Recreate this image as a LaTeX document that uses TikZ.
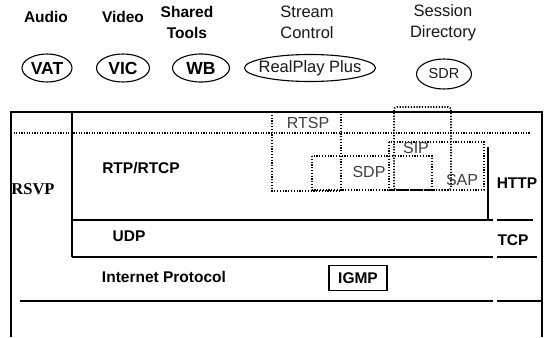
\documentclass[tikz,border=0pt]{standalone}
\usepackage{fontspec}
\setmainfont{Liberation Sans}
\newfontfamily\rsvpfont{Liberation Serif}
\begin{document}
\begin{tikzpicture}[x=1pt,y=-1pt,
  hdr/.style={font=\fontsize{15.5}{21}\selectfont\bfseries, align=center, inner sep=0pt},
  hdrlight/.style={font=\fontsize{16.5}{21}\selectfont, text=black!90, align=center, inner sep=0pt},
  app/.style={inner sep=0pt, font=\fontsize{17.5}{19}\selectfont\bfseries},
  appthin/.style={inner sep=0pt, font=\fontsize{16.5}{18}\selectfont, text=black!90},
  oval/.style={line width=1.1pt},
  frame/.style={line width=1.2pt},
  layer/.style={line width=1.8pt},
  dotline/.style={line width=1.5pt, dash pattern=on 1.1pt off 1.5pt},
  dotbox/.style={line width=1.6pt, dash pattern=on 1.2pt off 1.6pt},
  proto/.style={font=\fontsize{15.5}{17}\selectfont\bfseries, inner sep=0pt},
  protolight/.style={font=\fontsize{16}{17}\selectfont, text=black!75, inner sep=0pt}
]
\useasboundingbox[fill=white] (0,0) rectangle (548,337);

% top headings
\node[hdr] (audio) at (46,17) {Audio};
\node[hdr] (video) at (123,17) {Video};
\node[hdr] (shared) at (187,22) {Shared\\Tools};
\node[hdrlight] (stream) at (307,22) {Stream\\Control};
\node[hdrlight] (session) at (443,23) {Session\\Directory};

% applications
\node[app] (vat) at (47,68) {VAT};
\draw[oval] (vat.center) ellipse [x radius=25, y radius=14];
\node[app] (vic) at (123,68) {VIC};
\draw[oval] (vic.center) ellipse [x radius=26.5, y radius=14];
\node[app] (wb) at (201,68) {WB};
\draw[oval] (wb.center) ellipse [x radius=28.5, y radius=14];
\node[appthin] (realplay) at (310,68) {RealPlay Plus};
\draw[oval] (realplay.center) ellipse [x radius=65.5, y radius=13.5];
\node[appthin, font=\fontsize{14.5}{16}\selectfont] (sdr) at (444,74) {SDR};
\draw[oval] (sdr.center) ellipse [x radius=27.5, y radius=15];

% frame
\draw[frame] (11,337) -- (11,112) -- (542,112) -- (542,337);
\draw[frame] (72,112) -- (72,257);
\draw[dotline] (11,133) -- (530,133);
\draw[layer] (72,220) -- (493,220) (497,220) -- (533,220);
\draw[layer] (72,257) -- (493,257) (497,257) -- (537,257);
\draw[layer] (20,301) -- (493,301) (497,301) -- (541,301);
\draw[layer] (488,147) -- (488,220);

% dotted protocol boxes
\draw[dotbox] (272,112) rectangle (341,191);
\draw[dotbox] (312,156) rectangle (432,190);
\draw[dotbox, rounded corners=3pt] (394,107) rectangle (451,190);
\draw[dotbox] (389,142) rectangle (484,190);

% labels
\node[protolight] (rtsp) at (308,123) {RTSP};
\node[protolight] (sip) at (416,148) {SIP};
\node[protolight] (sdp) at (369,172) {SDP};
\node[protolight] (sap) at (462,180) {SAP};
\node[proto] (rtp) at (141,168) {RTP/RTCP};
\node[font=\fontsize{16.5}{18}\selectfont\bfseries\rsvpfont, inner sep=0pt] (rsvp) at (33,189) {RSVP};
\node[proto] (http) at (517,183) {HTTP};
\node[proto] (udp) at (129,236) {UDP};
\node[proto] (tcp) at (513,240) {TCP};
\node[proto] (ip) at (164,277) {Internet Protocol};
\node[proto, draw, line width=1.2pt, minimum width=58pt, minimum height=25pt] (igmp) at (358,278) {IGMP};
\end{tikzpicture}
\end{document}
